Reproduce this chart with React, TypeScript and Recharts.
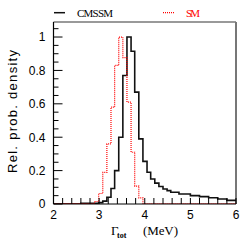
import { LineChart, Line, XAxis, YAxis, ReferenceLine } from "recharts";

// bin edges (MeV) and relative density
const cmssmX = [2.0, 2.6, 2.99, 3.08, 3.17, 3.26, 3.34, 3.43, 3.52, 3.61, 3.7, 3.78, 3.87, 3.96, 4.05, 4.13, 4.22, 4.31, 4.4, 4.49, 4.57, 4.75, 5.0, 5.2, 5.4, 5.6, 5.8, 6.0];
const cmssmY = [0.0, 0.004, 0.008, 0.017, 0.04, 0.093, 0.2, 0.4, 0.77, 1.0, 0.915, 0.67, 0.39, 0.255, 0.19, 0.15, 0.125, 0.105, 0.09, 0.08, 0.07, 0.06, 0.05, 0.044, 0.037, 0.03, 0.022, 0.022];

const smX = [2.0, 2.9, 2.99, 3.08, 3.17, 3.26, 3.34, 3.43, 3.52, 3.61, 3.7, 3.78, 3.87, 3.96, 6.0];
const smY = [0.003, 0.015, 0.063, 0.19, 0.36, 0.58, 0.83, 1.0, 0.877, 0.61, 0.31, 0.107, 0.037, 0.003, 0.003];

const xTicks = [2, 2.2, 2.4, 2.6, 2.8, 3, 3.2, 3.4, 3.6, 3.8, 4, 4.2, 4.4, 4.6, 4.8, 5, 5.2, 5.4, 5.6, 5.8, 6];
const yTicks = [0, 0.05, 0.1, 0.15, 0.2, 0.25, 0.3, 0.35, 0.4, 0.45, 0.5, 0.55, 0.6, 0.65, 0.7, 0.75, 0.8, 0.85, 0.9, 0.95, 1, 1.05];

const cmssm = cmssmX.map((x, i) => ({ x, y: cmssmY[i] }));
const sm = smX.map((x, i) => ({ x, y: smY[i] }));

const tickFont = "'Liberation Sans', Arial, sans-serif";

const XTick = (props: any) => {
  const { x, y, payload } = props;
  const v = payload.value;
  const major = Math.abs(v - Math.round(v)) < 1e-6;
  return (
    <g>
      <line x1={x} x2={x} y1={y} y2={y - 6} stroke="#000" strokeWidth={1} />
      {major && (
        <text x={x} y={y + 14.5} textAnchor="middle" fontSize={12} fontFamily={tickFont} fill="#000">
          {Math.round(v)}
        </text>
      )}
    </g>
  );
};

const YTick = (props: any) => {
  const { x, y, payload } = props;
  const v = payload.value;
  const major = Math.abs(v * 5 - Math.round(v * 5)) < 1e-6;
  const label = v === 0 ? "0" : v === 1 ? "1" : v.toFixed(1);
  return (
    <g>
      <line x1={x} x2={x + (major ? 9 : 5)} y1={y} y2={y} stroke="#000" strokeWidth={1} />
      {major && (
        <text x={x - 8} y={y + 4.3} textAnchor="end" fontSize={12} fontFamily={tickFont} fill="#000">
          {label}
        </text>
      )}
    </g>
  );
};

export default function App() {
  return (
    <div style={{ position: "absolute", left: 0, top: 0, width: 249, height: 249, background: "#fff" }}>
      <LineChart width={249} height={249} margin={{ top: 22, right: 13, bottom: 15, left: 13.5 }}>
        <XAxis
          type="number"
          dataKey="x"
          domain={[2, 6]}
          ticks={xTicks}
          interval={0}
          tick={XTick}
          tickLine={false}
          tickSize={0}
          tickMargin={0}
          height={30}
          axisLine={{ stroke: "#000", strokeWidth: 1.2 }}
          allowDataOverflow
        />
        <YAxis
          type="number"
          dataKey="y"
          domain={[0, 1.09]}
          ticks={yTicks}
          interval={0}
          tick={YTick}
          tickLine={false}
          tickSize={0}
          tickMargin={0}
          width={40}
          axisLine={{ stroke: "#000", strokeWidth: 1.2 }}
          allowDataOverflow
        />
        <ReferenceLine x={6} stroke="#777" strokeWidth={2} />
        <ReferenceLine y={1.09} stroke="#777" strokeWidth={1.5} />
        <Line
          data={cmssm}
          dataKey="y"
          type="stepAfter"
          stroke="#111"
          strokeWidth={1.6}
          dot={false}
          isAnimationActive={false}
        />
        <Line
          data={sm}
          dataKey="y"
          type="stepAfter"
          stroke="#ff0000"
          strokeWidth={1.2}
          strokeDasharray="1 1"
          dot={false}
          isAnimationActive={false}
        />
      </LineChart>
      <svg width={249} height={249} style={{ position: "absolute", left: 0, top: 0, pointerEvents: "none" }}>
        {/* legend */}
        <line x1={54} x2={65} y1={12.7} y2={12.7} stroke="#111" strokeWidth={1.5} />
        <text x={77} y={17} fontSize={11} fontFamily="'Liberation Serif', serif" textLength={36} fill="#000">
          CMSSM
        </text>
        <line x1={163} x2={175} y1={12.7} y2={12.7} stroke="#ff0000" strokeWidth={1.2} strokeDasharray="1 1" />
        <text x={186} y={17} fontSize={11} fontFamily="'Liberation Serif', serif" textLength={14} fill="#ff0000">
          SM
        </text>
        {/* y title */}
        <text
          x={16.5}
          y={111.5}
          transform="rotate(-90 16.5 111.5)"
          textAnchor="middle"
          fontSize={13}
          fontFamily={tickFont}
          textLength={123}
          fill="#000"
        >
          Rel. prob. density
        </text>
        {/* x title */}
        <text x={111} y={235} fontSize={13} fontFamily="'Liberation Serif', serif" fill="#000">
          Γ
        </text>
        <text x={117} y={238} fontSize={8} fontWeight="bold" fontFamily="'Liberation Serif', serif" fill="#000">
          tot
        </text>
        <text x={143} y={235} fontSize={13} fontFamily="'Liberation Serif', serif" textLength={35} fill="#000">
          (MeV)
        </text>
      </svg>
    </div>
  );
}
